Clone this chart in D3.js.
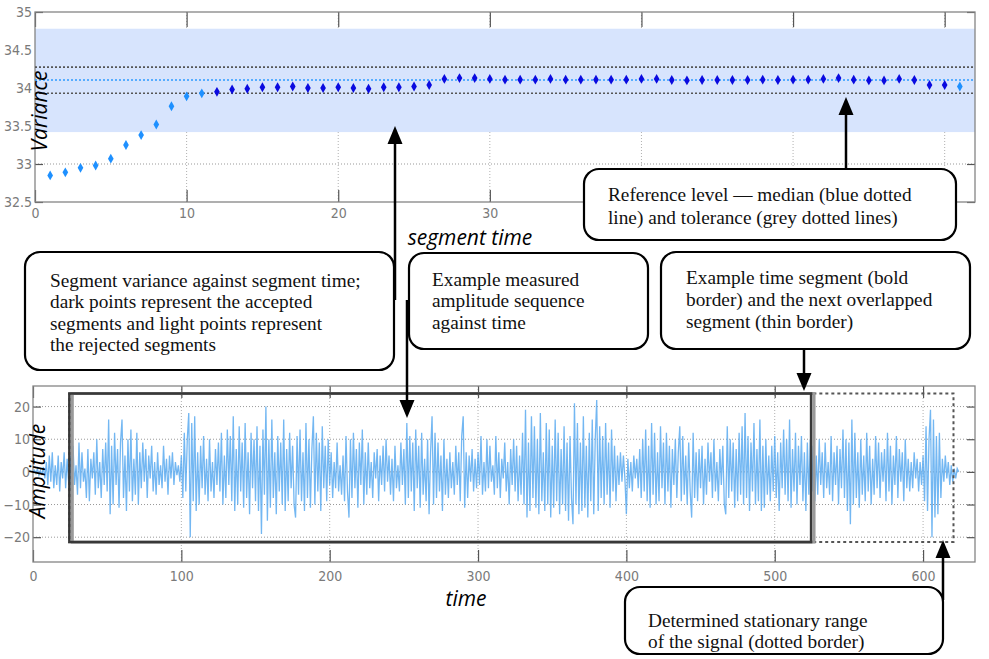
<!DOCTYPE html>
<html><head><meta charset="utf-8">
<script src="https://cdn.jsdelivr.net/npm/d3@7"></script>
<style>
html,body{margin:0;padding:0;background:#fff;}
svg{display:block;}
.tick text{font-family:'Liberation Sans Narrow','DejaVu Sans Condensed','Roboto',sans-serif;font-stretch:condensed;font-size:14px;fill:#7a7a7a;}
.box text{font-family:'Liberation Serif','DejaVu Serif',serif;font-size:19.3px;fill:#111;}
.lab{font-family:'Open Sans','Lato',sans-serif;font-style:italic;font-size:21px;fill:#000;}
</style></head><body>
<script>
// ---------- data ----------
const segmentIndex = d3.range(1, 62);
const variance = [32.85,32.89,32.95,32.98,33.07,33.25,33.38,33.52,33.76,33.89,33.93,
 33.95,33.98,33.99,34.01,34.01,34.02,34.00,34.00,34.01,34.00,33.99,34.01,34.01,34.02,34.04,
 34.12,34.13,34.13,34.12,34.11,34.11,34.11,34.12,34.11,34.11,34.11,34.11,34.11,34.12,34.12,
 34.105,34.10,34.105,34.105,34.105,34.105,34.11,34.105,34.11,34.11,34.12,34.13,34.11,34.10,
 34.10,34.12,34.105,34.04,34.04,34.02];
const acceptedRange = [12, 60];
const medianLevel = 34.105;
const toleranceLevels = [33.93, 34.275];
const bandLevels = [33.42, 34.78];
const varXTicks = [0,10,20,30,40,50,60];
const varXLabelled = [0,10,20,30];   // 40–60 sit under the reference-level callout
const varYTicks = [32.5,33,33.5,34,34.5,35];

const amplitude = [
0,0.5,-0.5,1,-1,0.5,-1,1.5,-2,3,-4,5,-3,6,-5,2,-4,5,-6,3,-2,6,-5,4,-3,
5,-6,8,-4,2,-7,9,-5,6,-3,1,-8,7,-9,4,-2,6,-7,10,-5,3,-8,7,-4,9,
-6,16,-13,8,-10,12,-4,7,-11,9,16,-8,5,-12,10,-6,13,-9,4,-7,12,-10,6,-5,9,
-3,7,-8,5,-2,8,-6,3,-7,6,-4,2,-5,8,-3,4,-7,5,-2,6,-4,3,-1,2,-3,
5,-8,12,-6,10,18,-20,15,-9,17,-12,6,-10,8,-5,11,-7,4,-9,10,-6,3,-8,7,-4,
9,-6,12,-10,5,-8,13,-4,11,-9,17,-12,7,-10,14,-6,9,-11,15,-8,6,-13,12,-5,10,
-9,14,-12,8,-19,13,-7,20,-15,10,-11,16,-8,6,-13,11,-6,9,-10,16,-12,7,-9,12,-5,
8,-10,-14,11,-7,13,-9,6,-12,15,-8,10,-11,7,17,-10,12,-6,9,-12,14,-5,8,-9,10,
-4,6,-8,3,-5,9,-6,2,-7,5,-9,11,-6,-14,10,-8,12,-5,7,-11,9,-4,13,-10,6,
-7,9,-5,3,-8,6,-2,7,-9,5,-4,8,-6,10,-3,5,-7,4,-9,8,-5,2,-6,9,-4,
7,-10,15,-8,11,-6,9,-12,13,-5,8,-11,12,-7,4,-9,10,-13,6,17,-10,12,-8,9,-6,
5,-12,10,-7,4,-8,6,-5,3,-7,8,-4,6,-9,11,17,-11,6,-8,5,-3,7,-6,4,-5,
6,-4,11,-7,3,-6,10,-5,8,-3,2,-7,11,-5,6,-8,4,-2,9,-6,3,-10,7,-4,10,
-6,8,-9,5,-7,12,-10,19,-14,9,-12,17,-8,14,-11,10,-13,18,-9,6,-12,15,-10,13,-14,
8,-11,16,-9,12,-13,7,-10,14,-12,9,-15,11,-8,-16,21,-10,15,-13,9,-12,17,-11,8,-14,
12,-9,16,-13,10,22,-12,14,-8,11,-10,15,-7,9,-11,13,-6,8,-9,5,-4,6,-3,5,-2,
-13,4,-5,3,-6,5,-2,4,-5,7,-8,10,-6,13,-9,8,-11,15,-7,12,-10,6,-9,14,-5,
9,-10,12,-6,8,-11,7,-4,10,-8,6,14,-9,11,-7,5,-10,9,-6,-14,12,-8,6,-9,7,
-5,8,-10,4,-7,9,-3,6,-8,10,-6,3,-9,7,-4,8,-10,-13,14,-8,10,-6,9,-11,7,
-9,12,-7,14,-10,18,-8,11,-12,9,-6,15,-10,7,-9,16,-12,8,-11,10,-7,5,-9,8,-6,
11,-8,6,-12,9,-5,13,-7,10,-9,16,-11,7,-6,12,-10,8,-4,11,-9,6,-12,9,-7,10,
-6,8,-9,5,-7,10,-4,6,-8,9,-5,3,-7,11,-9,6,-4,8,-10,7,-5,13,-8,10,-12,
9,-16,16,-10,12,-8,6,-11,10,-7,5,-9,12,-6,8,-10,4,-7,11,-5,9,-8,6,-3,7,
-9,12,-6,8,-10,5,-4,11,-8,7,-3,6,-9,10,-5,4,-6,3,-5,6,-2,4,-6,3,-4,
5,-9,14,-12,10,19,-20,16,-14,11,-13,12,-8,4,-3,5,-2,3,-4,2,-3,1,-2,1,0];
const timeTicks = [0,100,200,300,400,500,600];
const ampTicks = [-20,-10,0,10,20];
const segmentSpan = [24.5, 524.5];
const nextSegmentSpan = [26.5, 526.5];
const stationarySpan = [24.5, 620.5];
const segmentAmpSpan = [-21.5, 24];

const boxTexts = {
  a: ["Segment variance against segment time;","dark points represent the accepted","segments and light points represent","the rejected segments"],
  b: ["Example measured","amplitude sequence","against time"],
  c: ["Reference level \u2014 median (blue dotted","line) and tolerance (grey dotted lines)"],
  d: ["Example time segment (bold","border) and the next overlapped","segment (thin border)"],
  e: ["Determined stationary range","of the signal (dotted border)"]
};

// ---------- drawing ----------
const svg = d3.select("body").append("svg").attr("width",989).attr("height",659);

function axesFrame(g, x, y, xt, xl, yt, topLen, botLen, sideLen, pad){
  g.append("g").selectAll("line").data(xt.filter(v=>v!==x.domain()[0])).join("line")
    .attr("x1",d=>x(d)).attr("x2",d=>x(d)).attr("y1",y.range()[1]).attr("y2",y.range()[0])
    .attr("stroke","#b0b0b0").attr("stroke-dasharray","1,2");
  g.append("g").selectAll("line").data(yt.filter(v=>v>y.domain()[0] && v<y.domain()[1])).join("line")
    .attr("y1",d=>y(d)).attr("y2",d=>y(d)).attr("x1",x.range()[0]).attr("x2",x.range()[1])
    .attr("stroke","#999").attr("stroke-dasharray","1,2");
  const style = s => { s.select(".domain").remove(); s.selectAll(".tick line").attr("stroke","#555").attr("stroke-width",1.2); };
  g.append("g").attr("transform",`translate(0,${y.range()[0]})`)
    .call(d3.axisBottom(x).tickValues(xt).tickSize(-botLen).tickPadding(pad.x)
      .tickFormat(d => xl.includes(d) ? String(d) : ""))
    .call(style);
  g.append("g").attr("transform",`translate(0,${y.range()[1]})`)
    .call(d3.axisTop(x).tickValues(xt).tickSize(-topLen).tickFormat(""))
    .call(style);
  g.append("g").attr("transform",`translate(${x.range()[0]},0)`)
    .call(d3.axisLeft(y).tickValues(yt).tickSize(-sideLen).tickPadding(pad.y).tickFormat(d3.format("")))
    .call(style);
  g.append("g").attr("transform",`translate(${x.range()[1]},0)`)
    .call(d3.axisRight(y).tickValues(yt).tickSize(-sideLen).tickFormat(""))
    .call(style);
  g.selectAll(".tick text").attr("fill","#7a7a7a");
}

// ---- top chart ----
const xT = d3.scaleLinear().domain([0,62]).range([35,975]);
const yT = d3.scaleLinear().domain([32.5,35]).range([202,12]);
const gT = svg.append("g");
axesFrame(gT, xT, yT, varXTicks, varXLabelled, varYTicks, 15, 12, 8, {x:6,y:3});
gT.append("rect").attr("x",xT(0)).attr("width",xT(62)-xT(0))
  .attr("y",yT(bandLevels[1])).attr("height",yT(bandLevels[0])-yT(bandLevels[1]))
  .attr("fill","#d7e4fd");
gT.append("rect").attr("x",xT(0)).attr("y",yT(35)).attr("width",xT(62)-xT(0)).attr("height",yT(32.5)-yT(35))
  .attr("fill","none").attr("stroke","#858585").attr("stroke-width",1.3);
gT.selectAll("line.tol").data(toleranceLevels).join("line").attr("class","tol")
  .attr("x1",xT(0)).attr("x2",xT(62)).attr("y1",d=>yT(d)).attr("y2",d=>yT(d))
  .attr("stroke","#555").attr("stroke-width",1.6).attr("stroke-dasharray","2,2");
gT.append("line").attr("x1",xT(0)).attr("x2",xT(62)).attr("y1",yT(medianLevel)).attr("y2",yT(medianLevel))
  .attr("stroke","#2e9bff").attr("stroke-width",1.6).attr("stroke-dasharray","2,2");
const diamond = d3.symbol().type(d3.symbolDiamond).size(28);
gT.append("g").selectAll("path").data(variance).join("path")
  .attr("d",diamond)
  .attr("transform",(d,i)=>`translate(${xT(segmentIndex[i])},${yT(d)})`)
  .attr("fill",(d,i)=> (segmentIndex[i]>=acceptedRange[0] && segmentIndex[i]<=acceptedRange[1]) ? "#0a0ae0" : "#1e90ff");

// ---- bottom chart ----
const xB = d3.scaleLinear().domain([0,635]).range([33,975]);
const yB = d3.scaleLinear().domain([-27.6,26.3]).range([562,386]);
const gB = svg.append("g");
axesFrame(gB, xB, yB, timeTicks, timeTicks, ampTicks, 12, 12, 8, {x:9,y:3});
gB.append("rect").attr("x",xB(0)).attr("y",yB(26.3)).attr("width",xB(635)-xB(0)).attr("height",yB(-27.6)-yB(26.3))
  .attr("fill","none").attr("stroke","#858585").attr("stroke-width",1.3);
gB.append("path").datum(amplitude)
  .attr("d", d3.line().x((d,i)=>xB(i)).y(d=>yB(d)))
  .attr("fill","none").attr("stroke","#5aaaf0").attr("stroke-width",1.3).attr("stroke-opacity",0.85);
gB.append("rect").attr("x",xB(stationarySpan[0])).attr("width",xB(stationarySpan[1])-xB(stationarySpan[0]))
  .attr("y",yB(segmentAmpSpan[1])).attr("height",yB(segmentAmpSpan[0])-yB(segmentAmpSpan[1]))
  .attr("fill","none").attr("stroke","#555").attr("stroke-width",2).attr("stroke-dasharray","3,3");
gB.append("rect").attr("x",xB(nextSegmentSpan[0])).attr("width",xB(nextSegmentSpan[1])-xB(nextSegmentSpan[0]))
  .attr("y",yB(segmentAmpSpan[1])).attr("height",yB(segmentAmpSpan[0])-yB(segmentAmpSpan[1]))
  .attr("fill","none").attr("stroke","#9a9a9a").attr("stroke-width",3);
gB.append("rect").attr("x",xB(segmentSpan[0])).attr("width",xB(segmentSpan[1])-xB(segmentSpan[0]))
  .attr("y",yB(segmentAmpSpan[1])).attr("height",yB(segmentAmpSpan[0])-yB(segmentAmpSpan[1]))
  .attr("fill","none").attr("stroke","#383838").attr("stroke-width",2.5);

// axis titles
svg.append("text").attr("class","lab").attr("transform","translate(47,111) rotate(-90)").attr("text-anchor","middle").text("Variance");
svg.append("text").attr("class","lab").attr("transform","translate(45,471) rotate(-90)").attr("text-anchor","middle").text("Amplitude");
svg.append("text").attr("class","lab").attr("x",470).attr("y",245).attr("font-size",20.5).attr("text-anchor","middle").text("segment time");
svg.append("text").attr("class","lab").attr("x",466).attr("y",606).attr("text-anchor","middle").text("time");

function arrow(x, yFrom, yTip){
  const dir = yTip < yFrom ? -1 : 1;
  const hl = 18, hw = 7.5;
  svg.append("line").attr("x1",x).attr("x2",x).attr("y1",yFrom).attr("y2",yTip - dir*hl)
    .attr("stroke","#000").attr("stroke-width",2.5);
  svg.append("path").attr("d",`M${x},${yTip}L${x-hw},${yTip-dir*hl}L${x+hw},${yTip-dir*hl}Z`).attr("fill","#000");
}
function box(x0,y0,x1,y1,lines,tx,ty,lh){
  const g = svg.append("g").attr("class","box");
  g.append("rect").attr("x",x0).attr("y",y0).attr("width",x1-x0).attr("height",y1-y0)
    .attr("rx",15).attr("ry",15).attr("fill","#fff").attr("stroke","#000").attr("stroke-width",2.2);
  g.selectAll("text").data(lines).join("text").attr("x",tx).attr("y",(d,i)=>ty+i*lh).text(d=>d);
}
arrow(395, 300, 126);
arrow(407, 300, 418);
arrow(846, 175, 97);
arrow(804, 345, 391);
arrow(943, 600, 540);
box(25,252,394,370,boxTexts.a,50,287,21.3);
box(409,253,648,349,boxTexts.b,432,286,21.3);
box(584,169,956,240,boxTexts.c,608,201,22.5);
box(661,252,970,349,boxTexts.d,686,284,22);
box(625,587,943,654,boxTexts.e,648,627,20.5);
</script>
</body></html>
